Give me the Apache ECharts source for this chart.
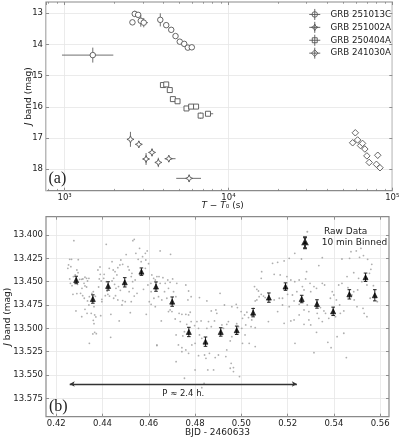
<!DOCTYPE html>
<html><head><meta charset="utf-8">
<script src="https://cdn.jsdelivr.net/npm/echarts@6/dist/echarts.min.js"></script>
<style>html,body{margin:0;padding:0;background:#fff}#c{width:400px;height:439px}</style>
</head><body><div id="c"></div>
<script>
// ---------- Panel (a) data ----------
const names = ['GRB 251013C', 'GRB 251002A', 'GRB 250404A', 'GRB 241030A'];
const t_251013C = [1486, 2594, 2680, 2810, 2917, 3042, 3837, 4170, 4475, 4753, 5045, 5370, 5650, 5975];
const m_251013C = [14.34, 13.29, 13.02, 13.05, 13.24, 13.30, 13.21, 13.38, 13.53, 13.73, 13.91, 13.98, 14.10, 14.09];
const tlo_251013C = [964, 2594, 2680, 2810, 2917, 2904, 3837, 4170, 4475, 4753, 5045, 5370, 5650, 5975];
const thi_251013C = [1983, 2594, 2680, 2810, 2917, 3228, 3837, 4170, 4475, 4753, 5045, 5370, 5650, 5975];
const me_251013C = [0.24, 0.05, 0.10, 0.06, 0.19, 0.15, 0.21, 0.05, 0.06, 0.05, 0.04, 0.04, 0.06, 0.07];

const t_251002A = [2523, 2838, 3142, 3416, 3733, 4325, 5755];
const m_251002A = [17.04, 17.20, 17.67, 17.46, 17.78, 17.66, 18.29];
const tlo_251002A = [2523, 2838, 3142, 3416, 3733, 4074, 4800];
const thi_251002A = [2523, 2838, 3142, 3416, 3733, 4753, 6800];
const me_251002A = [0.24, 0.10, 0.19, 0.13, 0.15, 0.10, 0.12];

const t_250404A = [3982, 4170, 4385, 4580, 4890, 5545, 5920, 6345, 6765, 7500];
const m_250404A = [15.30, 15.28, 15.46, 15.75, 15.82, 16.05, 15.99, 15.99, 16.28, 16.22];
const tlo_250404A = [3982, 4170, 4385, 4580, 4890, 5545, 5920, 6345, 6765, 7228];
const thi_250404A = [3982, 4170, 4385, 4580, 4890, 5545, 5920, 6345, 6765, 8070];
const me_250404A = [0.05, 0.05, 0.05, 0.06, 0.06, 0.07, 0.06, 0.06, 0.10, 0.06];

const t_241030A = [57280, 59460, 61390, 64000, 65800, 68000, 69970, 72260, 80000, 81500, 84100];
const m_241030A = [17.15, 16.83, 17.06, 17.24, 17.17, 17.35, 17.57, 17.78, 17.84, 17.55, 17.95];
const me_241030A = [0.08, 0.09, 0.08, 0.08, 0.08, 0.08, 0.09, 0.09, 0.09, 0.10, 0.09];

const magTicks = [13, 14, 15, 16, 17, 18];
const timeMinorTicks = [800, 900, 2000, 3000, 4000, 5000, 6000, 7000, 8000, 9000,
                        20000, 30000, 40000, 50000, 60000, 70000, 80000, 90000];

// ---------- Panel (b) data ----------
const bjdTicks = [0.42, 0.44, 0.46, 0.48, 0.50, 0.52, 0.54, 0.56];
const jTicks = [13.400, 13.425, 13.450, 13.475, 13.500, 13.525, 13.550, 13.575];

const binX = [0.4286, 0.4358, 0.4424, 0.4496, 0.4568, 0.4631, 0.4701, 0.4773, 0.4845, 0.4911, 0.4980,
              0.5051, 0.5119, 0.5191, 0.5261, 0.5327, 0.5397, 0.5467, 0.5537, 0.5577];
const binY = [13.4482, 13.4686, 13.4546, 13.4507, 13.4393, 13.4553, 13.4714, 13.5039, 13.5143, 13.5039, 13.5021,
              13.4832, 13.4671, 13.4553, 13.4686, 13.4739, 13.4818, 13.4636, 13.4453, 13.4646];
const binErr = [0.0040, 0.0045, 0.0045, 0.0050, 0.0040, 0.0050, 0.0050, 0.0050, 0.0050, 0.0045, 0.0045,
                0.0045, 0.0050, 0.0040, 0.0040, 0.0045, 0.0045, 0.0050, 0.0045, 0.0060];

const rawPoints = [
[0.4276,13.4061],[0.4258,13.4261],[0.4266,13.4261],[0.4295,13.4264],[0.4253,13.4321],[0.4263,13.4339],
[0.4250,13.4357],[0.4289,13.4375],[0.4294,13.4404],[0.4282,13.4428],[0.4274,13.4446],[0.4258,13.4471],
[0.4301,13.4475],[0.4315,13.4471],[0.4310,13.4475],[0.4324,13.4453],[0.4331,13.4464],[0.4341,13.4464],
[0.4335,13.4493],[0.4261,13.4518],[0.4268,13.4543],[0.4292,13.4529],[0.4320,13.4518],[0.4324,13.4546],
[0.4331,13.4557],[0.4311,13.4571],[0.4272,13.4636],[0.4289,13.4628],[0.4305,13.4625],[0.4314,13.4650],
[0.4321,13.4678],[0.4343,13.4661],[0.4335,13.4707],[0.4354,13.4625],[0.4360,13.4607],[0.4369,13.4657],
[0.4341,13.4750],[0.4363,13.4768],[0.4324,13.4796],[0.4285,13.4814],[0.4333,13.4839],[0.4310,13.4875],
[0.4351,13.4839],[0.4366,13.4857],[0.4371,13.4878],[0.4360,13.4914],[0.4363,13.4950],[0.4366,13.5043],
[0.4358,13.5060],[0.4373,13.5057],[0.4343,13.5161],[0.4416,13.4100],[0.4389,13.4343],[0.4380,13.4375],
[0.4390,13.4421],[0.4386,13.4471],[0.4407,13.4421],[0.4405,13.4464],[0.4394,13.4493],[0.4383,13.4557],
[0.4416,13.4500],[0.4420,13.4600],[0.4423,13.4636],[0.4412,13.4650],[0.4397,13.4689],[0.4430,13.4654],
[0.4397,13.4714],[0.4441,13.4286],[0.4429,13.4357],[0.4446,13.4375],[0.4454,13.4393],[0.4466,13.4350],
[0.4479,13.4268],[0.4475,13.4321],[0.4487,13.4314],[0.4462,13.4428],[0.4448,13.4464],[0.4441,13.4493],
[0.4452,13.4529],[0.4458,13.4571],[0.4469,13.4553],[0.4477,13.4593],[0.4456,13.4650],[0.4448,13.4678],
[0.4466,13.4696],[0.4487,13.4703],[0.4484,13.4750],[0.4498,13.4714],[0.4436,13.4850],[0.4392,13.4864],
[0.4472,13.4921],[0.4435,13.5096],[0.4502,13.4210],[0.4510,13.4339],[0.4515,13.4375],[0.4524,13.4446],
[0.4527,13.4411],[0.4530,13.4500],[0.4541,13.4482],[0.4531,13.4571],[0.4515,13.4607],[0.4537,13.4654],
[0.4549,13.4625],[0.4524,13.4714],[0.4520,13.4832],[0.4531,13.4061],[0.4537,13.4046],[0.4544,13.4196],
[0.4560,13.4143],[0.4573,13.4232],[0.4585,13.4196],[0.4593,13.4171],[0.4587,13.4268],[0.4599,13.4307],
[0.4567,13.4286],[0.4554,13.4261],[0.4585,13.4357],[0.4613,13.4428],[0.4621,13.4464],[0.4628,13.4482],
[0.4609,13.4518],[0.4596,13.4536],[0.4577,13.4582],[0.4610,13.4607],[0.4622,13.4678],[0.4610,13.4743],
[0.4602,13.4714],[0.4628,13.4768],[0.4589,13.4850],[0.4635,13.5185],[0.4644,13.4446],[0.4649,13.4518],
[0.4649,13.4171],[0.4694,13.4207],[0.4635,13.4446],[0.4661,13.4457],[0.4682,13.4482],[0.4671,13.4518],
[0.4692,13.4507],[0.4703,13.4471],[0.4721,13.4518],[0.4685,13.4571],[0.4668,13.4607],[0.4642,13.4661],
[0.4760,13.4536],[0.4772,13.4600],[0.4783,13.4661],[0.4819,13.4671],[0.4769,13.4696],[0.4707,13.4607],
[0.4717,13.4661],[0.4678,13.4678],[0.4692,13.4803],[0.4685,13.4821],[0.4700,13.4821],[0.4731,13.4839],
[0.4743,13.4850],[0.4760,13.4850],[0.4772,13.4857],[0.4779,13.4828],[0.4654,13.4921],[0.4714,13.4900],
[0.4736,13.4928],[0.4764,13.4957],[0.4718,13.5071],[0.4747,13.5082],[0.4754,13.5036],[0.4728,13.5178],
[0.4743,13.5207],[0.4760,13.5232],[0.4783,13.4928],[0.4798,13.4971],[0.4808,13.4928],[0.4826,13.4921],
[0.4815,13.5000],[0.4829,13.5107],[0.4800,13.5161],[0.4819,13.5071],[0.4851,13.4707],[0.4870,13.4814],
[0.4890,13.4803],[0.4894,13.4839],[0.4908,13.4625],[0.4927,13.4750],[0.4884,13.4921],[0.4870,13.4982],
[0.4851,13.5000],[0.4858,13.4928],[0.4916,13.4964],[0.4937,13.4957],[0.4944,13.4928],[0.4923,13.5000],
[0.4959,13.4768],[0.4978,13.4743],[0.4983,13.4778],[0.4999,13.4821],[0.5005,13.4893],[0.5014,13.4857],
[0.5024,13.4828],[0.5031,13.4885],[0.5045,13.4857],[0.5052,13.4786],[0.5060,13.4707],[0.5067,13.4696],
[0.5077,13.4661],[0.5086,13.4636],[0.5096,13.4654],[0.5103,13.4671],[0.5086,13.4464],[0.5088,13.4393],
[0.5057,13.4553],[0.5067,13.4582],[0.5074,13.4600],[0.5042,13.4982],[0.5045,13.4910],[0.5005,13.5161],
[0.5034,13.5161],[0.5060,13.5196],[0.5019,13.4964],[0.4980,13.4950],[0.4988,13.4982],[0.4959,13.5089],
[0.4952,13.5135],[0.4937,13.5232],[0.4933,13.5303],[0.4956,13.5375],[0.4966,13.5421],[0.4992,13.5517],
[0.4952,13.5428],[0.4901,13.5286],[0.4887,13.5314],[0.4862,13.5268],[0.4855,13.5446],[0.4880,13.5446],
[0.4800,13.5446],[0.4754,13.5535],[0.4718,13.5357],[0.4839,13.5589],[0.4829,13.5636],[0.4815,13.5293],
[0.4841,13.5286],[0.4847,13.5321],[0.4635,13.5178],[0.4743,13.5250],[0.4772,13.5268],[0.4786,13.5178],
[0.4966,13.5464],[0.5002,13.5000],[0.5016,13.5071],[0.4656,13.4696],[0.5060,13.4993],[0.5117,13.4928],
[0.5135,13.4304],[0.5157,13.4293],[0.5185,13.4278],[0.5207,13.4250],[0.5231,13.4196],[0.5260,13.4257],
[0.5282,13.4393],[0.5350,13.4243],[0.5335,13.4328],[0.5435,13.4257],[0.5468,13.4250],[0.5474,13.4179],
[0.5497,13.4171],[0.5517,13.4143],[0.5511,13.4239],[0.5528,13.4221],[0.5546,13.4261],[0.5564,13.4314],
[0.5560,13.4368],[0.5554,13.4411],[0.5543,13.4464],[0.5457,13.4446],[0.5486,13.4404],[0.5507,13.4464],
[0.5521,13.4500],[0.5571,13.4543],[0.5583,13.4661],[0.5588,13.4714],[0.5142,13.4421],[0.5168,13.4428],
[0.5197,13.4446],[0.5214,13.4482],[0.5231,13.4500],[0.5250,13.4482],[0.5278,13.4471],[0.5297,13.4518],
[0.5314,13.4553],[0.5350,13.4518],[0.5360,13.4536],[0.5325,13.4571],[0.5300,13.4607],[0.5264,13.4553],
[0.5271,13.4589],[0.5240,13.4607],[0.5221,13.4643],[0.5200,13.4636],[0.5178,13.4678],[0.5142,13.4696],
[0.5157,13.4821],[0.5164,13.4678],[0.5207,13.4768],[0.5228,13.4707],[0.5250,13.4743],[0.5271,13.4803],
[0.5292,13.4821],[0.5285,13.4750],[0.5342,13.4778],[0.5357,13.4814],[0.5364,13.4839],[0.5328,13.4839],
[0.5335,13.4893],[0.5350,13.4928],[0.5378,13.4893],[0.5388,13.4839],[0.5407,13.4875],[0.5428,13.4839],
[0.5443,13.4814],[0.5425,13.4750],[0.5411,13.4696],[0.5421,13.4536],[0.5435,13.4518],[0.5393,13.4607],
[0.5400,13.4643],[0.5385,13.4678],[0.5478,13.4643],[0.5488,13.4696],[0.5500,13.4768],[0.5526,13.4786],
[0.5531,13.4839],[0.5543,13.4875],[0.5486,13.4607],[0.5503,13.4589],[0.5461,13.4564],[0.5185,13.4946],
[0.5214,13.4921],[0.5228,13.4910],[0.5271,13.4957],[0.5300,13.4964],[0.5325,13.5043],[0.5374,13.5150],
[0.5388,13.5207],[0.5414,13.5089],[0.5443,13.5053],[0.5232,13.5161],[0.5314,13.5261],[0.5454,13.5314],
[0.5178,13.4750],[0.5250,13.4857],[0.5292,13.4910],[0.5543,13.4536],[0.5557,13.4678]
];
const periodArrow = [[0.4258, 13.5597], [0.5240, 13.5597]];
const periodText = 'P ≈ 2.4 h.';

// ---------- build ----------
const FONT = 'DejaVu Sans';
const star4 = 'path://M0,-10 L3,-3 L10,0 L3,3 L0,10 L-3,3 L-10,0 L-3,-3 Z';
const shapeSym = ['circle', star4, 'rect', 'diamond'];
const legendIcons = [
  'path://M0,-10 L0,10 M-10,0 L10,0 M5,0 A5,5 0 1 1 -5,0 A5,5 0 1 1 5,0 Z',
  'path://M0,-10 L0,10 M-10,0 L10,0 M0,-6 L2,-2 L6,0 L2,2 L0,6 L-2,2 L-6,0 L-2,-2 Z',
  'path://M0,-10 L0,10 M-10,0 L10,0 M-4.5,-4.5 L4.5,-4.5 L4.5,4.5 L-4.5,4.5 Z',
  'path://M0,-10 L0,10 M-10,0 L10,0 M0,-6 L6,0 L0,6 L-6,0 Z'
];
const symSize = [5.5, 7, 5, 6.5];
const hollow = {color: '#fff', borderColor: '#555', borderWidth: 0.9, opacity: 1};

const groups = [
  [t_251013C, m_251013C, tlo_251013C, thi_251013C, me_251013C],
  [t_251002A, m_251002A, tlo_251002A, thi_251002A, me_251002A],
  [t_250404A, m_250404A, tlo_250404A, thi_250404A, me_250404A],
  [t_241030A, m_241030A, t_241030A.map(v => v * 0.985), t_241030A.map(v => v * 1.015), me_241030A]
];

function errTop(params, api) {
  const x = api.value(0), y = api.value(1);
  const a = api.coord([api.value(2), y]), b = api.coord([api.value(3), y]);
  const c = api.coord([x, api.value(4)]), d = api.coord([x, api.value(5)]);
  const st = {stroke: '#6f6f6f', lineWidth: 1};
  return {type: 'group', children: [
    {type: 'line', shape: {x1: a[0], y1: a[1], x2: b[0], y2: b[1]}, style: st},
    {type: 'line', shape: {x1: c[0], y1: c[1], x2: d[0], y2: d[1]}, style: st}
  ]};
}
function errBin(params, api) {
  const x = api.value(0);
  const c = api.coord([x, api.value(2)]), d = api.coord([x, api.value(3)]);
  const st = {stroke: '#222', lineWidth: 1};
  const w = 1.8;
  return {type: 'group', children: [
    {type: 'line', shape: {x1: c[0], y1: c[1], x2: d[0], y2: d[1]}, style: st},
    {type: 'line', shape: {x1: c[0] - w, y1: c[1], x2: c[0] + w, y2: c[1]}, style: st},
    {type: 'line', shape: {x1: d[0] - w, y1: d[1], x2: d[0] + w, y2: d[1]}, style: st}
  ]};
}

const series = [];
groups.forEach((g, k) => {
  const [t, m, tlo, thi, me] = g;
  series.push({
    type: 'custom', xAxisIndex: 0, yAxisIndex: 0, renderItem: errTop, silent: true, z: 2,
    encode: {x: 0, y: 1},
    data: t.map((v, i) => [v, m[i], tlo[i], thi[i], m[i] - me[i], m[i] + me[i]])
  });
});
groups.forEach((g, k) => {
  const [t, m] = g;
  series.push({
    type: 'scatter', name: names[k], xAxisIndex: 0, yAxisIndex: 0, z: 3,
    symbol: shapeSym[k], symbolSize: symSize[k],
    itemStyle: hollow,
    data: t.map((v, i) => [v, m[i]])
  });
});
series.push({
  type: 'scatter', name: 'Raw Data', xAxisIndex: 1, yAxisIndex: 1, z: 2,
  symbol: 'circle', symbolSize: 1.8, itemStyle: {color: '#9a9a9a'},
  data: rawPoints
});
series.push({
  type: 'custom', xAxisIndex: 1, yAxisIndex: 1, renderItem: errBin, silent: true, z: 4,
  encode: {x: 0, y: 1},
  data: binX.map((v, i) => [v, binY[i], binY[i] - binErr[i], binY[i] + binErr[i]])
});
series.push({
  type: 'scatter', name: '10 min Binned', xAxisIndex: 1, yAxisIndex: 1, z: 5,
  symbol: 'triangle', symbolSize: 5,
  itemStyle: {color: '#000', borderColor: '#000', borderWidth: 0.8},
  data: binX.map((v, i) => [v, binY[i]]),
  markLine: {
    silent: true, animation: false,
    symbol: ['arrow', 'arrow'], symbolSize: [4, 5],
    lineStyle: {color: '#333', width: 1.3, type: 'solid'},
    label: {show: true, position: 'insideMiddleBottom', formatter: periodText, distance: 5,
            color: '#222', fontFamily: FONT, fontSize: 8.5},
    emphasis: {disabled: true},
    data: [[{coord: periodArrow[0]}, {coord: periodArrow[1]}]]
  }
});

const gridLine = {show: true, lineStyle: {color: '#e6e6e6', width: 0.8}};
const tickIn = {show: true, inside: true, length: 3, lineStyle: {color: '#777', width: 0.8}};
const lbl = {color: '#222', fontFamily: FONT, fontSize: 8.5};
const sup = {3: '10³', 4: '10⁴', 5: '10⁵'};
const logFmt = v => { const e = Math.log10(v); return Math.abs(e - Math.round(e)) < 1e-6 ? (sup[Math.round(e)] || '') : ''; };
const nameStyle = {color: '#222', fontFamily: FONT, fontSize: 9, rich: {i: {fontStyle: 'italic', fontFamily: FONT, fontSize: 9, color: '#222'}}};
const tMin = 770, tMax = 100000;
const minorLog = timeMinorTicks.map(v => Math.log10(v));
const minorTickStyle = {show: true, inside: true, length: 1.8, customValues: minorLog, lineStyle: {color: '#777', width: 0.7}};

const option = {
  animation: false,
  backgroundColor: '#fff',
  grid: [
    {left: 46, right: 7.7, top: 2, height: 188.7, show: true, borderColor: '#8a8a8a', borderWidth: 1.2,
     backgroundColor: 'transparent', outerBoundsMode: 'none', containLabel: false},
    {left: 46, right: 11, top: 216.7, height: 200, show: true, borderColor: '#8a8a8a', borderWidth: 1.2,
     backgroundColor: 'transparent', outerBoundsMode: 'none', containLabel: false}
  ],
  xAxis: [
    {type: 'log', logBase: 10, gridIndex: 0, min: tMin, max: tMax, position: 'bottom',
     axisLine: {show: false}, axisTick: tickIn, splitLine: gridLine,
     axisLabel: Object.assign({}, lbl, {margin: 3, formatter: logFmt, showMinLabel: false}),
     name: '{i|T} − {i|T}₀ (s)', nameLocation: 'middle', nameGap: 10, nameMoveOverlap: false,
     nameTextStyle: Object.assign({}, nameStyle, {padding: [0, 0, 0, 7]})},
    {type: 'value', gridIndex: 1, min: 0.41555, max: 0.56384, position: 'bottom',
     axisLine: {show: false}, axisTick: Object.assign({}, tickIn, {customValues: bjdTicks}), splitLine: gridLine,
     axisLabel: Object.assign({}, lbl, {margin: 3, customValues: bjdTicks, formatter: v => v.toFixed(2)}),
     name: 'BJD - 2460633', nameLocation: 'middle', nameGap: 11, nameMoveOverlap: false,
     nameTextStyle: {color: '#222', fontFamily: FONT, fontSize: 9}},
    {type: 'log', logBase: 10, gridIndex: 0, min: tMin, max: tMax, position: 'top',
     axisLine: {show: false}, axisTick: tickIn, splitLine: {show: false}, axisLabel: {show: false}},
    {type: 'value', gridIndex: 1, min: 0.41555, max: 0.56384, position: 'top',
     axisLine: {show: false}, axisTick: Object.assign({}, tickIn, {customValues: bjdTicks}), splitLine: {show: false},
     axisLabel: {show: false, customValues: bjdTicks}},
    {type: 'value', gridIndex: 0, min: Math.log10(tMin), max: Math.log10(tMax), position: 'bottom',
     axisLine: {show: false}, axisTick: minorTickStyle, splitLine: {show: false},
     axisLabel: {show: false, customValues: minorLog}},
    {type: 'value', gridIndex: 0, min: Math.log10(tMin), max: Math.log10(tMax), position: 'top',
     axisLine: {show: false}, axisTick: minorTickStyle, splitLine: {show: false},
     axisLabel: {show: false, customValues: minorLog}}
  ],
  yAxis: [
    {type: 'value', gridIndex: 0, inverse: true, min: 12.638, max: 18.686, position: 'left',
     axisLine: {show: false}, axisTick: Object.assign({}, tickIn, {customValues: magTicks}), splitLine: gridLine,
     axisLabel: Object.assign({}, lbl, {margin: 3, customValues: magTicks, formatter: v => String(Math.round(v))}),
     name: '{i|J} band (mag)', nameLocation: 'middle', nameGap: 13.3, nameMoveOverlap: false, nameTextStyle: nameStyle},
    {type: 'value', gridIndex: 1, inverse: true, min: 13.3804, max: 13.5947, position: 'left',
     axisLine: {show: false}, axisTick: Object.assign({}, tickIn, {customValues: jTicks}), splitLine: gridLine,
     axisLabel: Object.assign({}, lbl, {margin: 3, customValues: jTicks, formatter: v => v.toFixed(3)}),
     name: '{i|J} band (mag)', nameLocation: 'middle', nameGap: 34, nameMoveOverlap: false, nameTextStyle: nameStyle},
    {type: 'value', gridIndex: 0, inverse: true, min: 12.638, max: 18.686, position: 'right',
     axisLine: {show: false}, axisTick: Object.assign({}, tickIn, {customValues: magTicks}), splitLine: {show: false},
     axisLabel: {show: false, customValues: magTicks}},
    {type: 'value', gridIndex: 1, inverse: true, min: 13.3804, max: 13.5947, position: 'right',
     axisLine: {show: false}, axisTick: Object.assign({}, tickIn, {customValues: jTicks}), splitLine: {show: false},
     axisLabel: {show: false, customValues: jTicks}}
  ],
  legend: [
    {orient: 'vertical', left: 308.8, top: 8.5, padding: 0, itemWidth: 11, itemHeight: 11, itemGap: 1,
     selectedMode: false,
     data: names.map((n, i) => ({name: n, icon: legendIcons[i], itemStyle: hollow})),
     formatter: n => '{g|}{n|' + n + '}',
     textStyle: {color: '#222', fontFamily: FONT, fontSize: 8.7, rich: {g: {width: 5.2}, n: {fontFamily: FONT, fontSize: 8.7, color: '#222'}}}},
    {orient: 'vertical', left: 306.3, top: 227.3, padding: 0, itemWidth: 2, itemHeight: 2,
     selectedMode: false, data: [{name: 'Raw Data', icon: 'circle'}],
     formatter: n => '{g|}{n|' + n + '}',
     textStyle: {color: '#222', fontFamily: FONT, fontSize: 9, rich: {g: {width: 10.7}, n: {fontFamily: FONT, fontSize: 9, color: '#222'}}}},
    {orient: 'vertical', left: 301.8, top: 236.2, padding: 0, itemWidth: 11, itemHeight: 11,
     selectedMode: false,
     data: [{name: '10 min Binned', icon: 'path://M0,-10 L0,10 M-3.5,-10 L3.5,-10 M-3.5,10 L3.5,10 M0,-4.5 L4,3 L-4,3 Z'}],
     formatter: n => '{g|}{n|' + n + '}',
     textStyle: {color: '#222', fontFamily: FONT, fontSize: 9, rich: {g: {width: 6.2}, n: {fontFamily: FONT, fontSize: 9, color: '#222'}}}}
  ],
  graphic: [
    {type: 'text', left: 48.5, top: 171, z: 100, style: {text: '(a)', font: '16px "Liberation Serif"', fill: '#222'}},
    {type: 'text', left: 49, top: 398.5, z: 100, style: {text: '(b)', font: '16px "Liberation Serif"', fill: '#222'}}
  ],
  series: series
};
const chart = echarts.init(document.getElementById('c'), null, {renderer: 'canvas'});
chart.setOption(option);
</script>
</body></html>
